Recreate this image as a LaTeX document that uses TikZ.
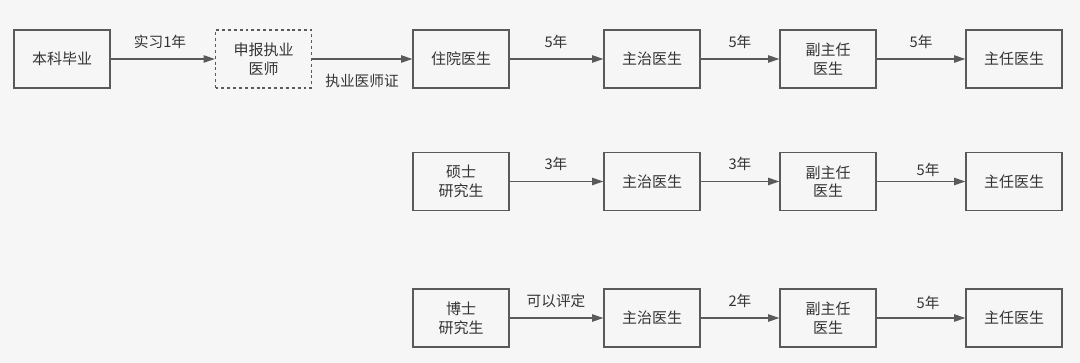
\documentclass[tikz,border=0pt]{standalone}
\usepackage{fontspec}
\setmainfont{Noto Sans CJK SC}
\usetikzlibrary{arrows.meta}
\definecolor{bg}{HTML}{F6F6F6}
\definecolor{ln}{HTML}{5A5A5A}
\definecolor{tx}{HTML}{333333}
\tikzset{
  box/.style={draw=ln, line width=0.85pt, fill=bg, minimum width=96*0.75pt, minimum height=58*0.75pt, inner sep=0pt, align=center, text=tx, font=\fontsize{11.25pt}{14pt}\selectfont},
  dbox/.style={box, dash pattern=on 2.2pt off 2.2pt},
  arr/.style={draw=ln, line width=0.85pt, -{Triangle[length=8.5pt,width=5.5pt]}},
  lbl/.style={text=tx, font=\fontsize{11pt}{13pt}\selectfont, inner sep=0pt}
}
\begin{document}
\begin{tikzpicture}[x=0.75pt,y=-0.75pt]
\fill[bg] (0,0) rectangle (1080,363);
\useasboundingbox (0,0) rectangle (1080,363);
% row 1
\node[box]  (bk)  at (62,59)   {本科毕业};
\node[dbox] (sb)  at (263.5,59) {申报执业\\医师};
\node[box]  (zy)  at (461,59)  {住院医生};
\node[box]  (zz1) at (652,59)  {主治医生};
\node[box]  (fz1) at (828,59)  {副主任\\医生};
\node[box]  (zr1) at (1014,59) {主任医生};
% row 2
\node[box]  (ss)  at (461,181.5) {硕士\\研究生};
\node[box]  (zz2) at (652,181.5) {主治医生};
\node[box]  (fz2) at (828,181.5) {副主任\\医生};
\node[box]  (zr2) at (1014,181.5) {主任医生};
% row 3
\node[box]  (bs)  at (461,318) {博士\\研究生};
\node[box]  (zz3) at (652,318) {主治医生};
\node[box]  (fz3) at (828,318) {副主任\\医生};
\node[box]  (zr3) at (1014,318) {主任医生};
% arrows row 1
\draw[arr] (bk) -- (sb);
\draw[arr] (sb) -- (zy);
\draw[arr] (zy) -- (zz1);
\draw[arr] (zz1) -- (fz1);
\draw[arr] (fz1) -- (zr1);
% arrows row 2
\draw[arr] (ss) -- (zz2);
\draw[arr] (zz2) -- (fz2);
\draw[arr] (fz2) -- (zr2);
% arrows row 3
\draw[arr] (bs) -- (zz3);
\draw[arr] (zz3) -- (fz3);
\draw[arr] (fz3) -- (zr3);
% labels
\node[lbl] (l1) at (160,42) {实习1年};
\node[lbl] (l2) at (362,81) {执业医师证};
\node[lbl] (l3) at (556,42) {5年};
\node[lbl] (l4) at (740,42) {5年};
\node[lbl] (l5) at (921,42) {5年};
\node[lbl] (l6) at (556,164) {3年};
\node[lbl] (l7) at (740,164) {3年};
\node[lbl] (l8) at (928,170) {5年};
\node[lbl] (l9) at (556,301) {可以评定};
\node[lbl] (l10) at (740,301) {2年};
\node[lbl] (l11) at (928,303) {5年};
\end{tikzpicture}
\end{document}
